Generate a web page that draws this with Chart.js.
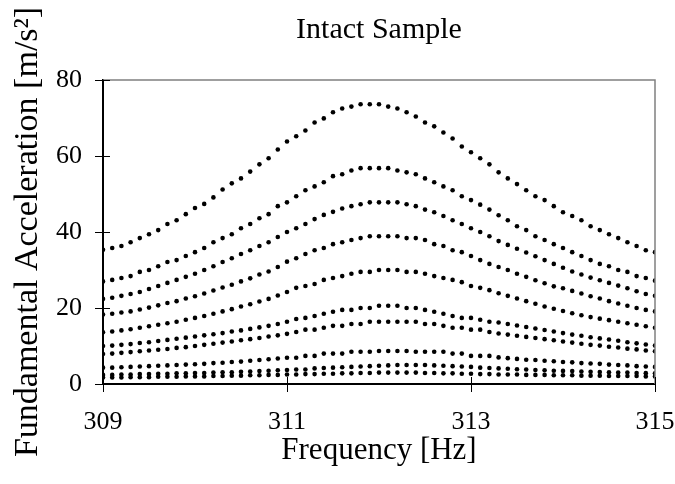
<!DOCTYPE html>
<html>
<head>
<meta charset="utf-8">
<style>
  html, body { margin: 0; padding: 0; background: #fff; }
  #intact { display: block; }
</style>
</head>
<body>
<canvas id="intact" width="675" height="484"></canvas>

<script src="https://cdn.jsdelivr.net/npm/chart.js@4/dist/chart.umd.min.js"></script>
<script>
/* INTACT SAMPLE - fundamental acceleration vs frequency, one dotted curve per drive level */
var freq = [
  309.0, 309.1, 309.2, 309.3, 309.4, 309.5, 309.6, 309.7, 309.8, 309.9,
  310.0, 310.1, 310.2, 310.3, 310.4, 310.5, 310.6, 310.7, 310.8, 310.9,
  311.0, 311.1, 311.2, 311.3, 311.4, 311.5, 311.6, 311.7, 311.8, 311.9,
  312.0, 312.1, 312.2, 312.3, 312.4, 312.5, 312.6, 312.7, 312.8, 312.9,
  313.0, 313.1, 313.2, 313.3, 313.4, 313.5, 313.6, 313.7, 313.8, 313.9,
  314.0, 314.1, 314.2, 314.3, 314.4, 314.5, 314.6, 314.7, 314.8, 314.9,
  315.0
];

var acc1 = [
  35.3, 35.8, 36.3, 37.3, 38.4, 39.4, 40.5, 42.1, 43.1, 44.7,
  46.3, 47.4, 49.1, 51.2, 52.8, 54.1, 55.9, 57.8, 59.4, 61.7,
  63.8, 65.2, 66.7, 68.8, 69.9, 71.5, 72.5, 73.0, 73.6, 73.6,
  73.6, 73.0, 72.5, 71.5, 70.4, 68.8, 67.8, 66.2, 64.6, 62.5,
  61.0, 59.4, 57.8, 55.7, 54.1, 52.6, 51.0, 49.4, 48.4, 46.8,
  45.2, 44.2, 43.1, 41.5, 40.5, 39.4, 38.4, 37.3, 36.3, 35.2,
  34.7
];
var acc2 = [
  27.0, 27.4, 27.9, 28.4, 29.5, 30.0, 31.0, 32.1, 32.6, 33.7,
  34.7, 35.8, 37.3, 38.4, 39.4, 41.0, 42.1, 43.6, 44.7, 46.8,
  47.8, 49.4, 51.0, 52.0, 53.1, 54.7, 55.2, 56.2, 56.8, 56.8,
  56.8, 56.8, 56.2, 55.7, 55.2, 54.1, 53.1, 52.0, 51.0, 49.4,
  48.4, 47.2, 45.9, 44.4, 43.1, 41.5, 40.5, 38.9, 37.9, 36.8,
  35.8, 34.7, 33.7, 32.6, 31.6, 31.0, 30.0, 29.5, 28.4, 27.9,
  27.2
];
var acc3 = [
  22.4, 22.7, 23.2, 23.7, 24.2, 25.0, 25.8, 26.6, 27.4, 28.2,
  29.0, 30.0, 31.0, 32.1, 33.1, 34.2, 35.2, 36.3, 37.3, 38.7,
  40.0, 41.0, 42.1, 43.4, 44.5, 45.3, 46.2, 46.8, 47.3, 47.8,
  47.8, 47.8, 47.8, 47.3, 46.8, 45.9, 45.2, 44.2, 43.1, 42.1,
  41.0, 40.0, 38.9, 37.6, 36.6, 35.6, 34.6, 33.6, 32.6, 31.6,
  30.6, 29.6, 28.8, 28.0, 27.3, 26.6, 25.9, 25.2, 24.4, 23.7,
  23.2
];
var acc4 = [
  18.3, 18.5, 18.8, 19.1, 19.6, 20.1, 20.7, 21.3, 21.8, 22.5,
  23.1, 23.8, 24.6, 25.4, 26.1, 27.0, 27.8, 28.8, 29.6, 30.8,
  32.2, 33.1, 34.2, 35.2, 35.8, 36.8, 37.3, 37.9, 38.4, 38.9,
  38.9, 38.9, 38.9, 38.4, 38.4, 37.9, 36.8, 36.3, 35.2, 34.7,
  33.7, 32.6, 31.6, 30.8, 30.0, 29.0, 28.2, 27.3, 26.5, 25.7,
  25.2, 24.5, 23.8, 23.1, 22.5, 21.8, 21.2, 20.6, 20.0, 19.5,
  19.1
];
var acc5 = [
  13.6, 13.8, 14.1, 14.4, 14.8, 15.2, 15.6, 16.0, 16.4, 16.9,
  17.4, 17.9, 18.5, 19.1, 19.7, 20.4, 21.0, 21.7, 22.4, 23.3,
  24.2, 25.3, 25.8, 26.3, 27.4, 27.9, 28.4, 29.0, 29.5, 29.5,
  30.0, 30.0, 30.0, 29.5, 29.5, 29.0, 28.4, 27.9, 27.4, 26.8,
  25.8, 25.3, 24.7, 23.9, 23.2, 22.5, 21.8, 21.1, 20.4, 19.8,
  19.2, 18.6, 18.1, 17.6, 17.2, 16.8, 16.4, 16.0, 15.6, 15.2,
  14.8
];
var acc6 = [
  10.0, 10.1, 10.3, 10.5, 10.8, 11.0, 11.3, 11.6, 11.9, 12.2,
  12.5, 12.8, 13.1, 13.4, 13.8, 14.1, 14.5, 14.9, 15.3, 15.8,
  16.4, 17.1, 17.4, 17.9, 18.5, 19.0, 19.5, 19.5, 20.0, 20.0,
  20.6, 20.6, 20.6, 20.0, 20.0, 19.5, 19.0, 18.5, 17.9, 17.4,
  17.4, 16.9, 16.4, 16.2, 15.8, 15.4, 15.0, 14.6, 14.2, 13.8,
  13.4, 13.0, 12.7, 12.3, 12.0, 11.7, 11.4, 11.0, 10.7, 10.4,
  10.1
];
var acc7 = [
  7.9, 8.0, 8.2, 8.4, 8.6, 8.8, 9.0, 9.2, 9.5, 9.7,
  10.0, 10.3, 10.6, 10.9, 11.2, 11.5, 11.8, 12.1, 12.5, 12.8,
  13.2, 13.7, 14.3, 14.3, 14.8, 15.3, 15.3, 15.8, 15.8, 16.4,
  16.4, 16.4, 16.4, 16.4, 16.4, 15.8, 15.8, 15.3, 14.8, 14.8,
  14.3, 14.3, 13.7, 13.3, 13.0, 12.7, 12.4, 12.1, 11.8, 11.5,
  11.2, 10.9, 10.6, 10.3, 10.1, 9.8, 9.6, 9.3, 9.1, 8.8,
  8.6
];
var acc8 = [
  4.3, 4.3, 4.4, 4.5, 4.6, 4.7, 4.8, 4.9, 5.0, 5.1,
  5.2, 5.3, 5.5, 5.6, 5.8, 5.9, 6.1, 6.3, 6.5, 6.7,
  6.9, 6.9, 7.4, 7.4, 8.0, 8.0, 8.0, 8.5, 8.5, 8.5,
  8.7, 8.7, 8.7, 8.7, 8.5, 8.5, 8.5, 8.5, 8.0, 8.0,
  7.4, 7.4, 7.4, 7.0, 6.8, 6.6, 6.4, 6.3, 6.1, 6.0,
  5.8, 5.7, 5.5, 5.4, 5.3, 5.1, 5.0, 4.9, 4.7, 4.6,
  4.5
];
var acc9 = [
  2.4, 2.4, 2.5, 2.5, 2.6, 2.6, 2.7, 2.7, 2.8, 2.8,
  2.9, 2.9, 3.0, 3.1, 3.1, 3.2, 3.3, 3.4, 3.5, 3.6,
  3.7, 3.8, 3.8, 4.1, 4.2, 4.3, 4.4, 4.5, 4.6, 4.7,
  4.8, 4.9, 5.0, 5.0, 5.0, 5.0, 4.9, 4.8, 4.7, 4.6,
  4.5, 4.3, 4.2, 4.1, 4.0, 3.9, 3.8, 3.7, 3.6, 3.5,
  3.45, 3.4, 3.3, 3.2, 3.15, 3.1, 3.0, 3.0, 2.9, 2.85,
  2.8
];
var acc10 = [
  1.7, 1.7, 1.7, 1.8, 1.8, 1.8, 1.9, 1.9, 1.9, 2.0,
  2.0, 2.0, 2.1, 2.1, 2.2, 2.2, 2.3, 2.3, 2.4, 2.4,
  2.5, 2.5, 2.6, 2.6, 2.7, 2.7, 2.8, 2.8, 2.9, 2.9,
  3.0, 3.0, 3.0, 3.0, 3.0, 2.9, 2.9, 2.8, 2.8, 2.7,
  2.7, 2.6, 2.6, 2.5, 2.5, 2.5, 2.4, 2.4, 2.4, 2.3,
  2.3, 2.3, 2.2, 2.2, 2.2, 2.1, 2.1, 2.1, 2.1, 2.0,
  2.0
];

var xTicks = [309, 311, 313, 315];
var yTicks = [0, 20, 40, 60, 80];

var allSeries = [acc1, acc2, acc3, acc4, acc5, acc6, acc7, acc8, acc9, acc10];

// tick marks in the reference cross the axis line (8px out, 7px in), so they are
// drawn here; Chart.js' own tick marks are hidden and their length only spaces the labels.
// Also closes the box with the lighter top/right edges.
var frameAndTicks = {
  id: 'frameAndTicks',
  afterDraw: function (chart) {
    var c = chart.ctx, a = chart.chartArea;
    var xs = chart.scales.x, ys = chart.scales.y;
    c.save();
    c.strokeStyle = '#808080';
    c.lineWidth = 1.5;
    c.beginPath();
    c.moveTo(a.left, a.top);
    c.lineTo(a.right, a.top);
    c.lineTo(a.right, a.bottom);
    c.stroke();
    c.strokeStyle = '#000';
    c.lineWidth = 1;
    c.beginPath();
    xs.ticks.forEach(function (t) {
      var px = Math.round(xs.getPixelForValue(t.value)) + 0.5;
      c.moveTo(px, a.bottom + 8);
      c.lineTo(px, a.bottom - 7);
    });
    ys.ticks.forEach(function (t) {
      var py = Math.round(ys.getPixelForValue(t.value)) + 0.5;
      c.moveTo(a.left - 8, py);
      c.lineTo(a.left + 7, py);
    });
    c.stroke();
    c.restore();
  }
};

var serif = "'Liberation Serif', 'Times New Roman', serif";

var ctx = document.getElementById("intact");
var myChart = new Chart(ctx, {
  type: 'scatter',
  data: {
    datasets: allSeries.map(function (s, i) {
      return {
        label: 'Level ' + (i + 1),
        data: freq.map(function (f, j) { return { x: f, y: s[j] }; }),
        pointRadius: 2.3,
        pointBorderWidth: 0,
        pointBackgroundColor: '#000',
        showLine: false
      };
    })
  },
  options: {
    responsive: false,
    animation: false,
    devicePixelRatio: 1,
    layout: { padding: { top: 6, right: 20, bottom: 17.5, left: 0 } },
    plugins: {
      legend: { display: false },
      tooltip: { enabled: false },
      title: {
        display: true,
        text: 'Intact Sample',
        color: '#000',
        fullSize: false,
        font: { family: serif, size: 30, weight: 'normal', lineHeight: 1.2 },
        padding: { top: 6, bottom: 32 }
      }
    },
    scales: {
      x: {
        type: 'linear',
        min: 309,
        max: 315,
        afterBuildTicks: function (axis) {
          axis.ticks = xTicks.map(function (v) { return { value: v }; });
        },
        grid: { drawOnChartArea: false, tickColor: 'rgba(0,0,0,0)', tickLength: 25 },
        border: { color: '#000', width: 2 },
        ticks: {
          color: '#000',
          padding: 0,
          maxRotation: 0,
          font: { family: serif, size: 26, lineHeight: 1 }
        },
        title: {
          display: true,
          text: 'Frequency [Hz]',
          color: '#000',
          font: { family: serif, size: 31, lineHeight: 1 },
          padding: { top: 0.5, bottom: 0 }
        }
      },
      y: {
        min: 0,
        max: 80,
        afterBuildTicks: function (axis) {
          axis.ticks = yTicks.map(function (v) { return { value: v }; });
        },
        grid: { drawOnChartArea: false, tickColor: 'rgba(0,0,0,0)', tickLength: 21 },
        border: { color: '#000', width: 2 },
        ticks: {
          color: '#000',
          padding: 0,
          font: { family: serif, size: 26, lineHeight: 1 }
        },
        title: {
          display: true,
          text: 'Fundamental Acceleration [m/s²]',
          color: '#000',
          font: { family: serif, size: 34, lineHeight: 1 },
          padding: { top: 11, bottom: 11 }
        }
      }
    }
  },
  plugins: [frameAndTicks]
});
</script>
</body>
</html>
